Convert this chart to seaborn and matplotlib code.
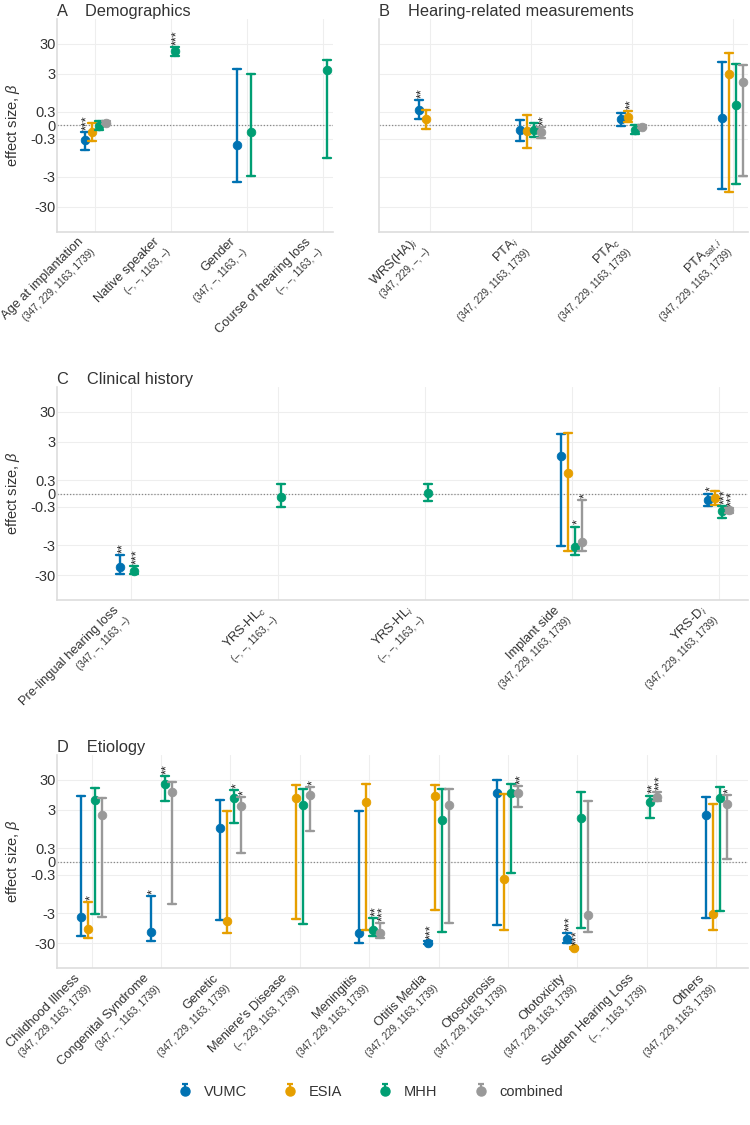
# Effect sizes per cohort, four panels (symlog y axis)
import numpy as np
import pandas as pd
import seaborn as sns
import matplotlib.pyplot as plt
from matplotlib.lines import Line2D
from matplotlib.path import Path
from matplotlib.legend_handler import HandlerTuple

sites = ['VUMC', 'ESIA', 'MHH', 'combined']
site_n = [347, 229, 1163, 1739]
colors = ['#0072B2', '#E69F00', '#009E73', '#999999']

# (beta, ci_low, ci_high, stars); None = cohort has no data for that variable
A_cats = ['Age at implantation', 'Native speaker', 'Gender', 'Course of hearing loss']
A_VUMC = [(-0.34, -0.55, -0.15, '***'), None, (-0.45, -4.6, 4.2, ''), None]
A_ESIA = [(-0.16, -0.36, 0.04, ''), None, None, None]
A_MHH = [(-0.01, -0.11, 0.1, ''), (17.5, 11.6, 23.7, '***'), (-0.15, -2.9, 2.9, ''), (3.9, -0.74, 8.4, '')]
A_comb = [(0.06, 0.03, 0.09, ''), None, None, None]

B_cats = ['WRS(HA)$_i$', 'PTA$_i$', 'PTA$_c$', 'PTA$_{sat,i}$']
B_VUMC = [(0.35, 0.14, 0.56, '**'), (-0.11, -0.35, 0.12, ''), (0.135, -0.02, 0.28, ''), (0.17, -7.6, 7.5, '')]
B_ESIA = [(0.135, -0.08, 0.34, ''), (-0.14, -0.51, 0.22, ''), (0.19, 0.08, 0.32, '**'), (3.0, -9.5, 14.6, '')]
B_MHH = [None, (-0.11, -0.26, 0.04, ''), (-0.1, -0.2, 0.01, ''), (0.46, -5.3, 6.1, '')]
B_comb = [None, (-0.16, -0.28, -0.05, '**'), (-0.03, -0.06, 0.0, ''), (1.6, -2.8, 5.9, '')]

C_cats = ['Pre-lingual hearing loss', 'YRS-HL$_c$', 'YRS-HL$_i$', 'Implant side', 'YRS-D$_i$']
C_VUMC = [(-16.2, -27.5, -6.3, '**'), None, None, (1.05, -3.2, 5.4, ''), (-0.14, -0.29, 0.0, '*')]
C_ESIA = [None, None, None, (0.47, -4.75, 5.8, ''), (-0.1, -0.25, 0.05, '')]
C_MHH = [(-21.0, -28.0, -15.0, '***'), (-0.08, -0.3, 0.22, ''), (0.02, -0.16, 0.22, ''),
         (-3.6, -6.6, -0.74, '*'), (-0.4, -0.54, -0.28, '***')]
C_comb = [None, None, None, (-2.45, -4.75, -0.15, '*'), (-0.38, -0.43, -0.33, '***')]

D_cats = ['Childhood Illness', 'Congenital Syndrome', 'Genetic', "Meniere's Disease", 'Meningitis',
          'Otitis Media', 'Otosclerosis', 'Ototoxicity', 'Sudden Hearing Loss', 'Others']
D_VUMC = [(-4.0, -16.7, 8.5, ''), (-13.2, -25.0, -0.79, '*'), (0.78, -5.0, 6.3, ''), None,
          (-13.5, -30.0, 2.7, ''), (-29.0, -32.0, -26.0, '***'), (11.0, -7.7, 29.0, ''),
          (-21.0, -29.0, -13.5, '***'), None, (2.1, -4.3, 8.1, '')]
D_ESIA = [(-10.5, -20.0, -1.25, '*'), None, (-5.5, -13.5, 2.7, ''), (7.5, -4.9, 19.9, ''),
          (5.4, -11.0, 21.8, ''), (9.0, -2.4, 20.4, ''), (-0.4, -11.0, 10.2, ''),
          (-43.0, -46.0, -40.0, '***'), None, (-3.2, -11.3, 4.9, '')]
D_MHH = [(6.6, -3.2, 15.8, ''), (22.6, 6.1, 38.8, '**'), (7.5, 1.08, 13.9, '*'), (4.5, -6.9, 15.0, ''),
         (-11.0, -17.3, -4.3, '**'), (1.43, -12.5, 15.0, ''), (11.3, -0.26, 22.6, ''),
         (1.66, -9.2, 11.9, ''), (5.3, 1.6, 9.0, '**'), (7.5, -2.55, 17.5, '')]
D_comb = [(2.0, -4.0, 7.5, ''), (11.9, -1.5, 24.6, ''), (4.1, 0.18, 8.0, '*'), (9.2, 0.68, 17.5, '*'),
          (-13.5, -20.0, -6.3, '***'), (4.3, -6.3, 14.6, ''), (11.3, 3.8, 18.4, '**'),
          (-3.5, -12.8, 5.8, ''), (8.1, 5.8, 11.9, '***'), (4.7, 0.06, 9.6, '*')]

yticks = [-30, -3, -0.3, 0, 0.3, 3, 30]
ytick_labels = ['-30', '-3', '-0.3', '0', '0.3', '3', '30']

sns.set_theme(style='whitegrid')
plt.rcParams['font.family'] = ['Liberation Sans', 'DejaVu Sans']
plt.rcParams['mathtext.fontset'] = 'custom'
plt.rcParams['mathtext.rm'] = 'Liberation Sans'
plt.rcParams['mathtext.it'] = 'Liberation Sans:italic'
plt.rcParams['text.color'] = '#333333'


def panel_frame(cats, series):
    # three rows per estimate so median -> beta and min/max -> CI
    rows = []
    for site, vals in zip(sites, series):
        for cat, v in zip(cats, vals):
            if v is None:
                continue
            est, lo, hi, _ = v
            for y in (lo, est, hi):
                rows.append({'variable': cat, 'site': site, 'beta': y})
    return pd.DataFrame(rows)


def draw_panel(ax, cats, series, xmax, title, show_y=True):
    width_px = ax.get_position().width * fig.get_figwidth() * fig.dpi
    cat_px = width_px / (xmax + 0.5)
    dodge = 21 / cat_px
    df = panel_frame(cats, series)
    sns.pointplot(data=df, x='variable', y='beta', hue='site', order=cats, hue_order=sites,
                  palette=colors, estimator='median', errorbar=lambda v: (v.min(), v.max()),
                  dodge=dodge, linestyle='none', markersize=6.2, markeredgewidth=0.6,
                  capsize=8 / cat_px, err_kws={'linewidth': 1.7}, legend=False, ax=ax)

    ax.set_yscale('symlog', linthresh=0.75, linscale=1)
    ax.set_ylim(-200, 200)
    ax.set_yticks(yticks)
    ax.set_yticklabels(ytick_labels if show_y else [])
    ax.yaxis.set_minor_locator(plt.NullLocator())
    ax.tick_params(axis='both', length=0)
    ax.tick_params(axis='y', labelsize=10.5, pad=1, labelcolor='#333333')
    ax.set_xlim(-0.5, xmax)
    ax.set_xticks(range(len(cats)))
    ax.set_xticklabels([])
    ax.grid(True, color='#eeeeee', linewidth=0.8)
    ax.axhline(0, color='#888888', linestyle=(0, (1, 1.5)), linewidth=0.9, zorder=1)
    for side in ['top', 'right']:
        ax.spines[side].set_visible(False)
    for side in ['left', 'bottom']:
        ax.spines[side].set_color('#dddddd')
        ax.spines[side].set_linewidth(1.2)
    ax.set_xlabel('')
    if show_y:
        ax.set_ylabel('effect size, $\\beta$', fontsize=10.5, color='#333333', va='center')
        ax.yaxis.set_label_coords(-44 / width_px, 0.5)
    else:
        ax.set_ylabel('')
    ax.set_title(title, loc='left', fontsize=11.8, color='#333333', pad=2)

    # significance stars above the upper CI
    for j, vals in enumerate(series):
        off = -dodge / 2 + j * dodge / 3
        for i, v in enumerate(vals):
            if v is None or not v[3]:
                continue
            ax.annotate(v[3], (i + off, v[2]), xytext=(2.2, 1.5), textcoords='offset points',
                        rotation=90, rotation_mode='anchor', ha='left', va='center',
                        fontsize=9, color='#222222')

    # two-line category labels: name and per-cohort sample sizes
    xform = ax.get_xaxis_transform()
    for i, cat in enumerate(cats):
        counts = [str(n) if vals[i] is not None else '–' for n, vals in zip(site_n, series)]
        ax.annotate(cat, (i, 0), xycoords=xform, xytext=(-10, -6), textcoords='offset points',
                    rotation=45, rotation_mode='anchor', ha='right', va='center',
                    fontsize=9.3, color='#333333')
        ax.annotate('(' + ', '.join(counts) + ')', (i, 0), xycoords=xform,
                    xytext=(-1.5, -13.5), textcoords='offset points', rotation=45,
                    rotation_mode='anchor', ha='right', va='center', fontsize=7,
                    color='#333333')


fig = plt.figure(figsize=(7.5, 11.25), dpi=100)
H = 213 / 1125
axA = fig.add_axes([57 / 750, (1125 - 231.7) / 1125, 276 / 750, H])
axB = fig.add_axes([379 / 750, (1125 - 231.7) / 1125, 369 / 750, H])
axC = fig.add_axes([57 / 750, (1125 - 600) / 1125, 691 / 750, H])
axD = fig.add_axes([57 / 750, (1125 - 968) / 1125, 691 / 750, H])

draw_panel(axA, A_cats, [A_VUMC, A_ESIA, A_MHH, A_comb], 3.13, 'A    Demographics')
draw_panel(axB, B_cats, [B_VUMC, B_ESIA, B_MHH, B_comb], 3.15, 'B    Hearing-related measurements',
           show_y=False)
draw_panel(axC, C_cats, [C_VUMC, C_ESIA, C_MHH, C_comb], 4.2, 'C    Clinical history')
draw_panel(axD, D_cats, [D_VUMC, D_ESIA, D_MHH, D_comb], 9.46, 'D    Etiology')

# legend glyph: dot with an error bar and cap above it
cap_path = Path([(0, 0), (0, 1), (-0.5, 1), (0.5, 1)],
                [Path.MOVETO, Path.LINETO, Path.MOVETO, Path.LINETO])
handles = []
for c in colors:
    dot = Line2D([], [], marker='o', color=c, linestyle='none', markersize=6.5)
    bar = Line2D([], [], marker=cap_path, color=c, linestyle='none', markersize=10,
                 markeredgewidth=1.6, fillstyle='none')
    handles.append((bar, dot))
fig.legend(handles, sites, loc='center', bbox_to_anchor=(0.494, 1 - 1092 / 1125), ncol=4,
           frameon=False, handler_map={tuple: HandlerTuple(ndivide=1)}, fontsize=10.5,
           handlelength=1.0, handletextpad=0.8, columnspacing=2.45)

fig.savefig('out.png', dpi=100)
